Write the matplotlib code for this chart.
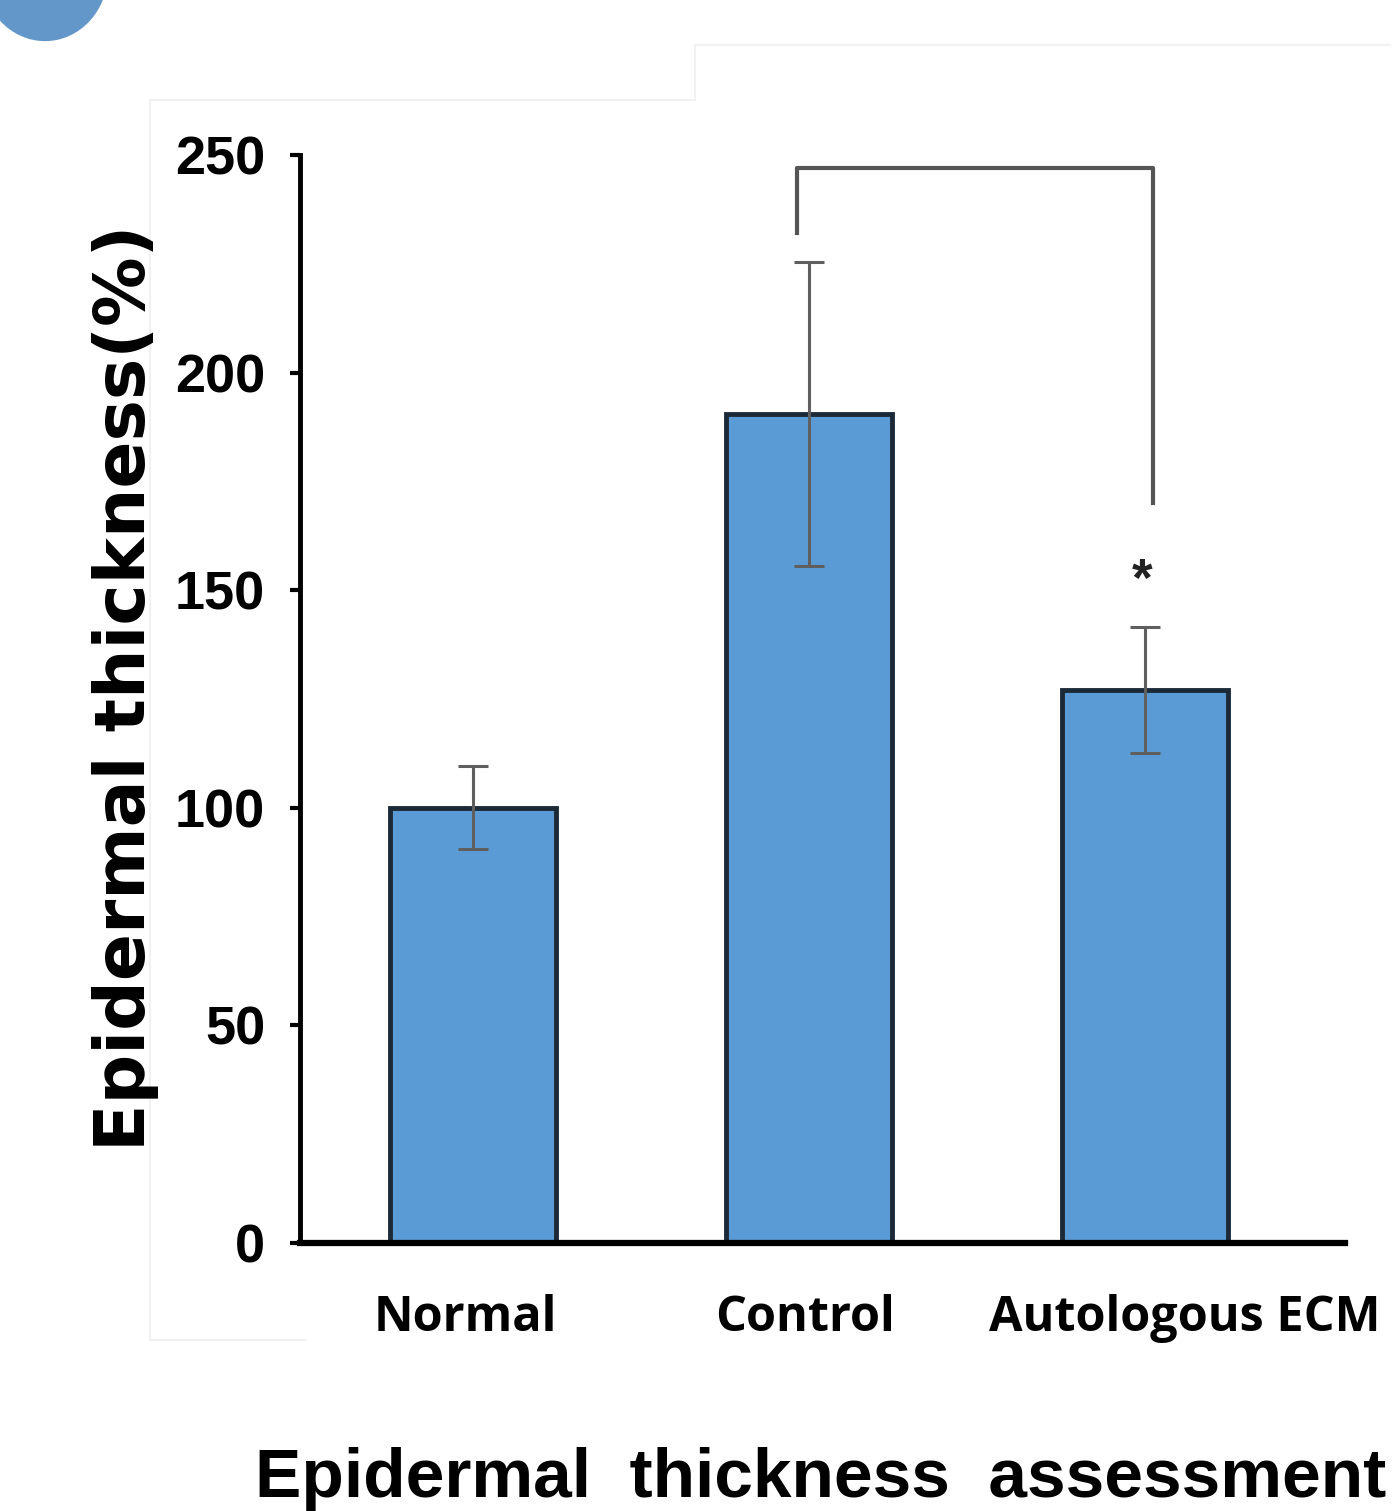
import matplotlib
matplotlib.use("Agg")
import matplotlib.pyplot as plt
from matplotlib.patches import Circle
from matplotlib.transforms import ScaledTranslation

categories = ["Normal", "Control", "Autologous ECM"]
values = [100, 190.5, 127]
errors = [9.5, 35, 14.5]
yticks = [0, 50, 100, 150, 200, 250]
bracket_left_y = [232, 247]
bracket_right_y = [247, 170]
star_y = 152

W, H = 1397, 1511
fig = plt.figure(figsize=(W / 100, H / 100), dpi=100)
fig.patch.set_facecolor("white")

# decorative blue circle at top-left corner
circ = Circle((45 / W, 1 + 27 / H), 63 / W, transform=fig.transFigure,
              facecolor="#6497C9", edgecolor="none", clip_on=False)
fig.patches.append(circ)

# faint frame lines from the screenshot
for xs, ys in [([150, 695], [100, 100]), ([695, 695], [100, 45]), ([695, 1390], [45, 45]),
               ([150, 150], [100, 1340]), ([150, 305], [1340, 1340])]:
    fig.add_artist(plt.Line2D([x / W for x in xs], [1 - y / H for y in ys],
                              transform=fig.transFigure, color="#f1f1f1", lw=1.5))

ax = fig.add_axes([300 / W, 1 - 1243 / H, 1045 / W, 1088 / H])
x = list(range(len(categories)))
ax.bar(x, values, width=0.495, color="#5B9BD5", edgecolor="#1c2a38", linewidth=3.5, zorder=2)
ax.errorbar(x, values, yerr=errors, fmt="none", ecolor="#5f5f5f", elinewidth=2.2,
            capsize=11, capthick=2.2, zorder=3)

ax.set_xlim(-0.515, 2.595)
ax.set_ylim(0, 250)
ax.set_yticks(yticks)
ax.set_yticklabels([str(v) for v in yticks], fontfamily="Liberation Sans",
                   fontweight="bold", fontsize=39)
ax.tick_params(axis="y", direction="out", length=7, width=3, pad=18, color="black")
ax.set_xticks(x)
ax.set_xticklabels(categories, fontfamily="Open Sans", fontweight="bold", fontsize=35)
ax.tick_params(axis="x", length=0, pad=37)
lbls = ax.get_xticklabels()
lbls[0].set_transform(lbls[0].get_transform() + ScaledTranslation(-0.08, 0, fig.dpi_scale_trans))
lbls[1].set_transform(lbls[1].get_transform() + ScaledTranslation(-0.04, 0, fig.dpi_scale_trans))
lbls[2].set_transform(lbls[2].get_transform() + ScaledTranslation(0.40, 0, fig.dpi_scale_trans))

for s in ["top", "right"]:
    ax.spines[s].set_visible(False)
ax.spines["left"].set_linewidth(3.5)
ax.spines["bottom"].set_linewidth(4.5)

# significance bracket
bx0, bx1 = 0.964, 2.024
ax.plot([bx0, bx0, bx1, bx1], [bracket_left_y[0], bracket_left_y[1], bracket_right_y[0], bracket_right_y[1]],
        color="#555555", lw=3, clip_on=False, zorder=4, solid_joinstyle="round")
ax.text(1.99, star_y, "*", ha="center", va="center", fontsize=38, fontweight="bold",
        fontfamily="Liberation Sans", color="#222222")

fig.text(126 / W, 1 - 688 / H, "Epidermal thickness(%)", rotation=90, ha="center", va="center",
         fontfamily="DejaVu Sans", fontweight="bold", fontsize=50)
fig.text(255 / W, 1 - 1497 / H, "Epidermal  thickness  assessment", ha="left", va="baseline",
         fontfamily="Liberation Sans", fontweight="bold", fontsize=50)

fig.savefig("out.png", dpi=100, facecolor="white")
